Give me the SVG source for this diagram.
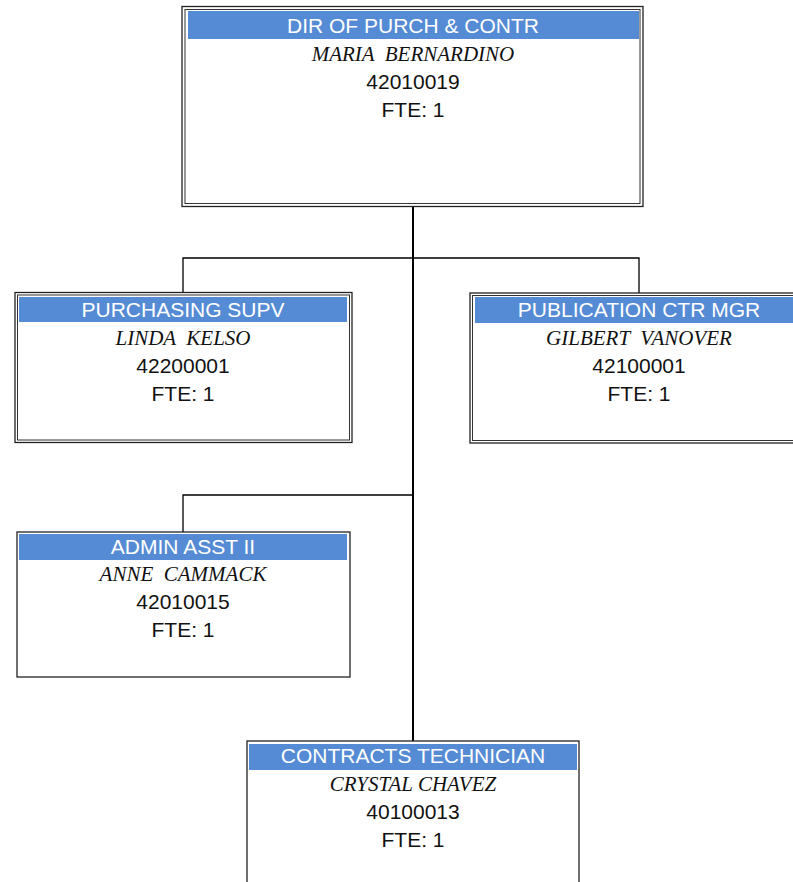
<svg xmlns="http://www.w3.org/2000/svg" width="793" height="882" viewBox="0 0 793 882">
  <style>
    .outer { fill: #ffffff; stroke: #222222; stroke-width: 1.3; }
    .inner { fill: none; stroke: #333333; stroke-width: 1; }
    .single { fill: #ffffff; stroke: #222222; stroke-width: 1.3; }
    .bar { fill: #558BD4; }
    .title { font-family: "Liberation Sans", Arial, sans-serif; font-size: 21px; fill: #ffffff; text-anchor: middle; }
    .name { font-family: "Liberation Serif", "Times New Roman", serif; font-style: italic; font-size: 21px; fill: #111111; text-anchor: middle; }
    .info { font-family: "Liberation Sans", Arial, sans-serif; font-size: 21px; fill: #111111; text-anchor: middle; }
    .link { fill: none; stroke: #000000; stroke-width: 1.3; }
    .trunk { fill: none; stroke: #000000; stroke-width: 2; }
  </style>

  <rect width="793" height="882" fill="#ffffff"/>

  <!-- reporting lines -->
  <g id="connectors">
    <path class="trunk" d="M413,206 V741"/>
    <path class="link" d="M183,293 V258 H639 V293"/>
    <path class="link" d="M183,532 V495 H413"/>
  </g>

  <!-- director -->
  <g id="node-dir">
    <rect class="outer" x="182" y="6.5" width="461" height="200"/>
    <rect class="inner" x="185" y="9.5" width="455" height="194"/>
    <rect class="bar" x="188" y="11" width="451" height="28"/>
    <text class="title" x="413" y="33">DIR OF PURCH &amp; CONTR</text>
    <text class="name" x="413" y="61" xml:space="preserve">MARIA  BERNARDINO</text>
    <text class="info" x="413" y="89">42010019</text>
    <text class="info" x="413" y="117">FTE: 1</text>
  </g>

  <!-- purchasing supervisor -->
  <g id="node-purch">
    <rect class="outer" x="15" y="292.5" width="337" height="150"/>
    <rect class="inner" x="17.5" y="295" width="332" height="145"/>
    <rect class="bar" x="19" y="297" width="328" height="25"/>
    <text class="title" x="183" y="317">PURCHASING SUPV</text>
    <text class="name" x="183" y="345" xml:space="preserve">LINDA  KELSO</text>
    <text class="info" x="183" y="373">42200001</text>
    <text class="info" x="183" y="401">FTE: 1</text>
  </g>

  <!-- publication center manager -->
  <g id="node-pub">
    <rect class="outer" x="470" y="293" width="337" height="150"/>
    <rect class="inner" x="472.5" y="295.5" width="332" height="145"/>
    <rect class="bar" x="475" y="297" width="328" height="26"/>
    <text class="title" x="639" y="317">PUBLICATION CTR MGR</text>
    <text class="name" x="639" y="345" xml:space="preserve">GILBERT  VANOVER</text>
    <text class="info" x="639" y="373">42100001</text>
    <text class="info" x="639" y="401">FTE: 1</text>
  </g>

  <!-- admin assistant -->
  <g id="node-admin">
    <rect class="single" x="17" y="532" width="333" height="145"/>
    <rect class="bar" x="19" y="534" width="328" height="26"/>
    <text class="title" x="183" y="554">ADMIN ASST II</text>
    <text class="name" x="183" y="581" xml:space="preserve">ANNE  CAMMACK</text>
    <text class="info" x="183" y="609">42010015</text>
    <text class="info" x="183" y="637">FTE: 1</text>
  </g>

  <!-- contracts technician -->
  <g id="node-contracts">
    <rect class="single" x="247" y="741" width="332" height="160"/>
    <rect class="bar" x="249" y="744" width="328" height="26"/>
    <text class="title" x="413" y="763">CONTRACTS TECHNICIAN</text>
    <text class="name" x="413" y="791">CRYSTAL CHAVEZ</text>
    <text class="info" x="413" y="819">40100013</text>
    <text class="info" x="413" y="847">FTE: 1</text>
  </g>
</svg>
